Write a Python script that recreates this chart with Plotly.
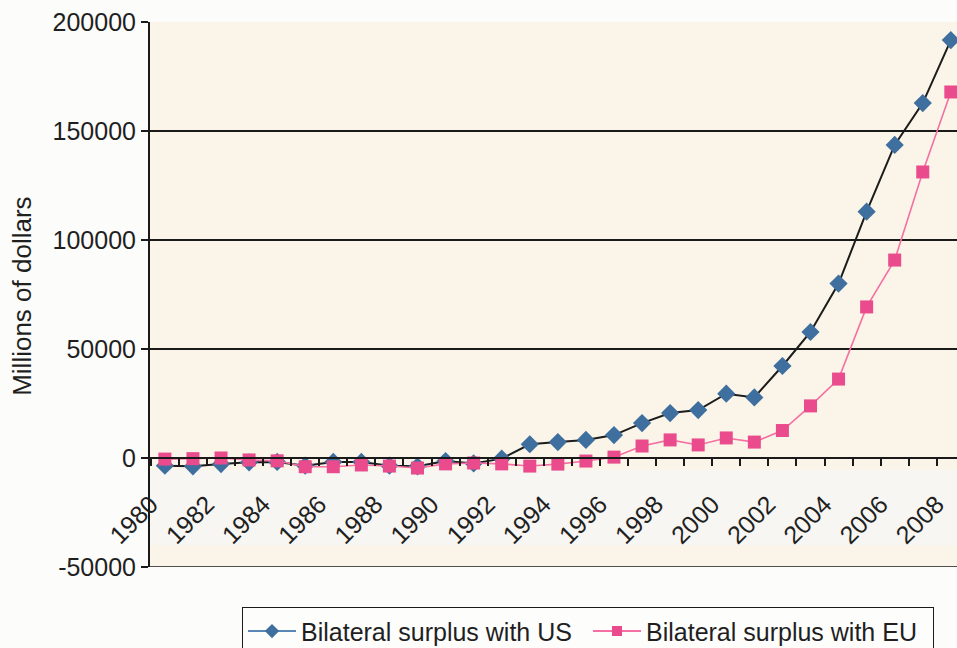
import plotly.graph_objects as go

# Bilateral trade surplus, millions of US dollars
years = list(range(1980, 2009))
surplus_us = [-3500, -3800, -2800, -2000, -1800, -3500, -1800, -1800, -3500, -3800,
              -1400, -2500, -300, 6300, 7300, 8300, 10500, 16000, 20600, 22000,
              29500, 27800, 42200, 57800, 80000, 113000, 143600, 162800, 191700]
surplus_eu = [-500, -300, 0, -900, -1300, -4000, -4000, -3200, -3700, -4600,
              -2700, -2300, -2700, -3700, -2800, -1400, 400, 5500, 8300, 6000,
              9200, 7300, 12600, 23900, 36200, 69300, 90800, 131200, 167900]
# every other year is labelled
year_labels = [str(y) if y % 2 == 0 else "" for y in years]
y_ticks = [-50000, 0, 50000, 100000, 150000, 200000]
y_tick_labels = ["-50000", "0", "50000", "100000", "150000", "200000"]

FONT = "Liberation Sans, Arial, sans-serif"
TXT = "#1f1f1f"
BLUE = "#3f6f9f"
PINK = "#ea4b8d"
PINK_LINE = "#f56fa3"

fig = go.Figure()

# data traces
fig.add_trace(go.Scatter(
    x=years, y=surplus_us, mode="lines+markers", showlegend=False,
    line=dict(color="#1c1c1c", width=2),
    marker=dict(symbol="diamond", size=14, color=BLUE, line=dict(width=0)),
))
fig.add_trace(go.Scatter(
    x=years, y=surplus_eu, mode="lines+markers", showlegend=False,
    line=dict(color=PINK_LINE, width=1.6),
    marker=dict(symbol="square", size=13, color=PINK, line=dict(width=0)),
))

# legend entries
fig.add_trace(go.Scatter(
    x=[None], y=[None], mode="lines+markers", name="Bilateral surplus with US",
    line=dict(color="#5a86b8", width=2),
    marker=dict(symbol="diamond", size=11, color=BLUE),
))
fig.add_trace(go.Scatter(
    x=[None], y=[None], mode="lines+markers", name="Bilateral surplus with EU",
    line=dict(color=PINK_LINE, width=2),
    marker=dict(symbol="square", size=10, color=PINK),
))

# lighter strip behind the year labels
fig.add_shape(type="rect", xref="paper", yref="y", x0=0, x1=1, y0=-40000, y1=-5500,
              fillcolor="#f7f6f3", line=dict(width=0), layer="below")
# bottom frame line
fig.add_shape(type="line", xref="paper", yref="y", x0=0, x1=1, y0=-50000, y1=-50000,
              line=dict(color="#1a1a1a", width=1.6))

fig.update_layout(
    width=957, height=648,
    margin=dict(l=150, r=0, t=22, b=81, autoexpand=False),
    paper_bgcolor="#fcfcfa",
    plot_bgcolor="#faf5e8",
    font=dict(family=FONT, color=TXT, size=25),
    showlegend=True,
    legend=dict(
        orientation="h", x=0.114, y=-0.074, xanchor="left", yanchor="top",
        bgcolor="#fdfdfc", bordercolor="#1a1a1a", borderwidth=1,
        font=dict(family=FONT, size=25, color=TXT),
        itemwidth=48, entrywidth=282,
    ),
    xaxis=dict(
        range=[1979.47, 2008.22],
        anchor="free", position=0.2,
        # tick marks sit on the boundaries between years
        tickmode="array", tickvals=[y - 0.5 for y in years], ticktext=year_labels,
        tickangle=-45, ticks="outside", ticklen=7, tickcolor="#1a1a1a", tickwidth=1.5,
        ticklabelstandoff=14, ticklabeloverflow="allow",
        tickfont=dict(family=FONT, size=25, color=TXT),
        showgrid=False, zeroline=False,
        showline=True, linecolor="#1a1a1a", linewidth=1.6,
    ),
    yaxis=dict(
        range=[-50000, 200000],
        tickmode="array", tickvals=y_ticks, ticktext=y_tick_labels,
        ticks="outside", ticklen=7, tickcolor="#1a1a1a", tickwidth=1.5,
        tickfont=dict(family=FONT, size=25, color=TXT),
        showgrid=True, gridcolor="#1a1a1a", gridwidth=1.6,
        zeroline=True, zerolinecolor="#1a1a1a", zerolinewidth=1.6,
        showline=True, linecolor="#1a1a1a", linewidth=2,
    ),
    annotations=[dict(
        text="Millions of dollars", xref="paper", yref="paper",
        x=-0.159, y=0.497, xanchor="center", yanchor="middle",
        textangle=-90, showarrow=False,
        font=dict(family=FONT, size=26, color=TXT),
    )],
)

fig.write_html("out.html")
